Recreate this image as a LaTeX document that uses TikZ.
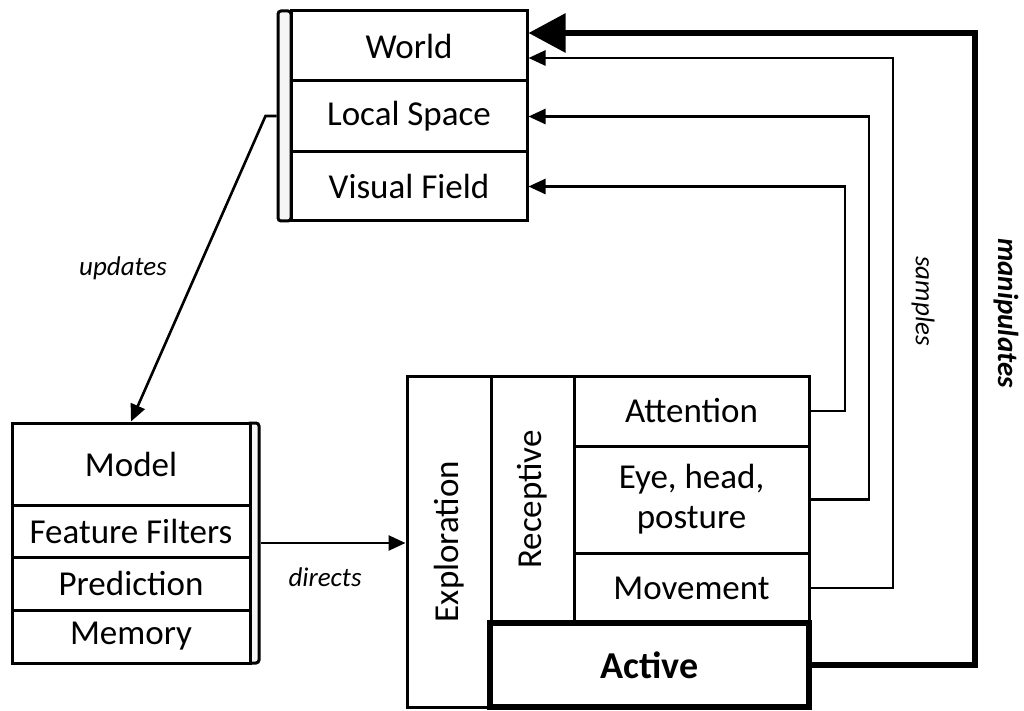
\documentclass[tikz,border=0pt]{standalone}
\usepackage{fontspec}
\setmainfont{Carlito}
\usetikzlibrary{arrows.meta,calc}
\begin{document}
\begin{tikzpicture}[x=1pt,y=-1pt,
  box/.style={draw,line width=3pt,fill=white,inner sep=0pt,align=center,
    font=\fontsize{35}{40}\selectfont},
  strip/.style={draw,line width=3pt,fill=gray!8,inner sep=0pt,rounded corners=3pt},
  conn/.style={line width=2.6pt,-{Triangle[length=17pt,width=15pt]}},
  manip/.style={line width=6pt,-{Triangle[length=37pt,width=38pt]}},
  lab/.style={font=\fontsize{27}{30}\selectfont\itshape}]
\useasboundingbox (0,0) rectangle (1024,711);
% World group
\node[strip,minimum width=13,minimum height=210] (WS) at (284.5,116) {};
\node[box,minimum width=236,minimum height=70] (World) at (409,46) {World};
\node[box,minimum width=236,minimum height=71] (Local) at (409,116.5) {Local Space};
\node[box,minimum width=236,minimum height=69] (Visual) at (409,186.5) {Visual Field};
% Model group
\node[strip,minimum width=12,minimum height=240] (MS) at (253,543) {};
\node[box,minimum width=238,minimum height=82] (Model) at (131,464) {Model};
\node[box,minimum width=238,minimum height=52] (Feat) at (131,531) {Feature Filters};
\node[box,minimum width=238,minimum height=53] (Pred) at (131,583.5) {Prediction};
\node[box,minimum width=238,minimum height=53] (Mem) at (131,636.5) {Memory};
% Exploration group
\node[box,minimum width=84,minimum height=331] (Expl) at (449,541.5) {};
\node[rotate=90,font=\fontsize{35}{40}\selectfont] (ExplT) at (449,541.5) {Exploration};
\node[box,minimum width=83,minimum height=247] (Rec) at (532.5,499.5) {};
\node[rotate=90,font=\fontsize{35}{40}\selectfont] (RecT) at (532.5,499.5) {Receptive};
\node[box,minimum width=235,minimum height=70] (Att) at (691.5,411) {Attention};
\node[box,minimum width=235,minimum height=107] (Eye) at (691.5,499.5) {Eye, head,\\posture};
\node[box,minimum width=235,minimum height=70] (Mov) at (691.5,588) {Movement};
\node[box,line width=5.5pt,minimum width=319,minimum height=84,font=\fontsize{38}{42}\selectfont\bfseries] (Act) at (649.5,665) {Active};
% connectors
\coordinate (xA) at (845,0);
\coordinate (xE) at (869,0);
\coordinate (xM) at (893,0);
\coordinate (xX) at (975,0);
\draw[conn] (Att.east) -- (Att.east -| xA) |- (Visual.east);
\draw[conn] (Eye.east) -- (Eye.east -| xE) |- (Local.east);
\draw[conn] (Mov.east) -- (Mov.east -| xM) |- ([yshift=-12pt]World.east);
\draw[manip] (Act.east) -- (Act.east -| xX) |- ([yshift=13pt]World.east);
\draw[conn] (WS.west) -- ++(-11,0) -- (Model.north);
\draw[conn] (MS.east) -- (Expl.west |- MS.east);
% labels
\node[lab] (lu) at (123,268) {updates};
\node[lab] (ld) at (325,577) {directs};
\node[lab,rotate=-90] (ls) at (923,301) {samples};
\node[lab,rotate=-90,font=\fontsize{29}{32}\selectfont\bfseries\itshape] (lm) at (1006,313) {manipulates};
\end{tikzpicture}
\end{document}
